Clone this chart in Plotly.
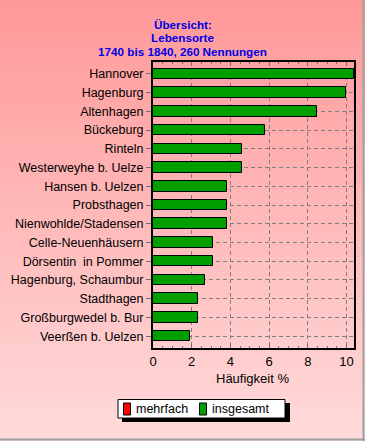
import plotly.graph_objects as go

places = ["Hannover", "Hagenburg", "Altenhagen", "Bückeburg", "Rinteln",
          "Westerweyhe b. Uelze", "Hansen b. Uelzen", "Probsthagen",
          "Nienwohlde/Stadensen", "Celle-Neuenhäusern", "Dörsentin  in Pommer",
          "Hagenburg, Schaumbur", "Stadthagen", "Großburgwedel b. Bur",
          "Veerßen b. Uelzen"]
insgesamt = [10.38, 10.0, 8.46, 5.77, 4.62, 4.62, 3.85, 3.85, 3.85,
             3.08, 3.08, 2.69, 2.31, 2.31, 1.92]
mehrfach = [0] * len(places)
x_ticks = [0, 2, 4, 6, 8, 10]
legend_names = ["mehrfach", "insgesamt"]
legend_colors = ["#FF0000", "#009F00"]
title_lines = ["Übersicht:", "Lebensorte", "1740 bis 1840, 260 Nennungen"]

W, H = 365, 441
L, R, T, B = 153, 11, 62, 93
PH = H - T - B
FONT = "Liberation Sans, Arial, sans-serif"

def py(p):
    return (H - B - p) / PH

def px(p):
    return (p - L) / (W - L - R)

fig = go.Figure()
fig.add_trace(go.Bar(y=places, x=mehrfach, orientation="h", name=legend_names[0],
                     marker=dict(color=legend_colors[0], line=dict(color="black", width=0)),
                     width=0.56, hoverinfo="skip", showlegend=False))
fig.add_trace(go.Bar(y=places, x=insgesamt, orientation="h", name=legend_names[1],
                     marker=dict(color=legend_colors[1], line=dict(color="black", width=1)),
                     width=0.56, showlegend=False))

shapes = []
# vertical gradient background
n = 60
c0 = (255, 153, 153)
c1 = (255, 218, 218)
for i in range(n):
    t = i / (n - 1)
    col = tuple(int(round(c0[k] + (c1[k] - c0[k]) * t)) for k in range(3))
    p0 = H * i / n
    p1 = H * (i + 1) / n + 1
    shapes.append(dict(type="rect", xref="paper", yref="paper",
                       x0=px(0), x1=px(W), y0=py(p1), y1=py(p0),
                       fillcolor="rgb(%d,%d,%d)" % col, line=dict(width=0),
                       layer="below"))
# outer gray border right & bottom
shapes.append(dict(type="line", xref="paper", yref="paper",
                   x0=px(W - 1.5), x1=px(W - 1.5), y0=py(H), y1=py(0),
                   line=dict(color="#A0A0A0", width=2), layer="above"))
shapes.append(dict(type="line", xref="paper", yref="paper",
                   x0=px(0), x1=px(W), y0=py(H - 1.5), y1=py(H - 1.5),
                   line=dict(color="#A0A0A0", width=2), layer="above"))
# legend box with shadow
shapes.append(dict(type="rect", xref="paper", yref="paper",
                   x0=px(122), x1=px(290), y0=py(422), y1=py(403),
                   fillcolor="black", line=dict(width=0), layer="above"))
shapes.append(dict(type="rect", xref="paper", yref="paper",
                   x0=px(118), x1=px(285), y0=py(418), y1=py(399.5),
                   fillcolor="white", line=dict(color="black", width=1), layer="above"))

annotations = []
for name, col, sx, tx in zip(legend_names, legend_colors, [123.5, 199.5], [134, 210]):
    shapes.append(dict(type="rect", xref="paper", yref="paper",
                       x0=px(sx), x1=px(sx + 7), y0=py(415), y1=py(403),
                       fillcolor=col, line=dict(color="black", width=1), layer="above"))
    annotations.append(dict(text=name, xref="paper", yref="paper",
                            x=px(tx), y=py(409), xanchor="left", yanchor="middle",
                            showarrow=False, font=dict(family=FONT, size=12.5, color="black")))

for txt, yc in zip(title_lines, [24.5, 38, 51.5]):
    annotations.append(dict(text="<b>%s</b>" % txt, xref="paper", yref="paper",
                            x=px(182.5), y=py(yc), xanchor="center", yanchor="middle",
                            showarrow=False, font=dict(family=FONT, size=11.7, color="#0000E6")))
annotations.append(dict(text="Häufigkeit %", xref="paper", yref="paper",
                        x=px(252), y=py(378), xanchor="center", yanchor="middle",
                        showarrow=False, font=dict(family=FONT, size=13, color="black")))

fig.update_layout(
    width=W, height=H,
    margin=dict(l=L, r=R, t=T, b=B, pad=0, autoexpand=False),
    paper_bgcolor="#FFBBBB", plot_bgcolor="rgba(0,0,0,0)",
    barmode="overlay", bargap=0,
    font=dict(family=FONT, size=12, color="black"),
    showlegend=False,
    shapes=shapes, annotations=annotations,
    xaxis=dict(range=[0, 10.39], tickvals=x_ticks, ticks="inside", ticklen=4,
               tickcolor="#707070", showline=True, linecolor="black", linewidth=2,
               mirror="ticks", showgrid=True, gridcolor="#808080", griddash="4px,3px",
               gridwidth=1, zeroline=False, tickfont=dict(size=13), automargin=False,
               minor=dict(dtick=0.5, ticks="inside", ticklen=2, tickcolor="#707070",
                          showgrid=False)),
    yaxis=dict(range=[14.63, -0.63], ticks="outside", ticklen=5, tickcolor="#707070",
               showline=True, linecolor="black", linewidth=2, mirror=True,
               showgrid=True, gridcolor="#808080", griddash="4px,3px", gridwidth=1,
               zeroline=False, tickfont=dict(size=12.5), automargin=False),
)
fig.write_html("out.html", config={"displayModeBar": False},
               post_script="document.body.style.margin='0px';document.body.style.overflow='hidden';")
